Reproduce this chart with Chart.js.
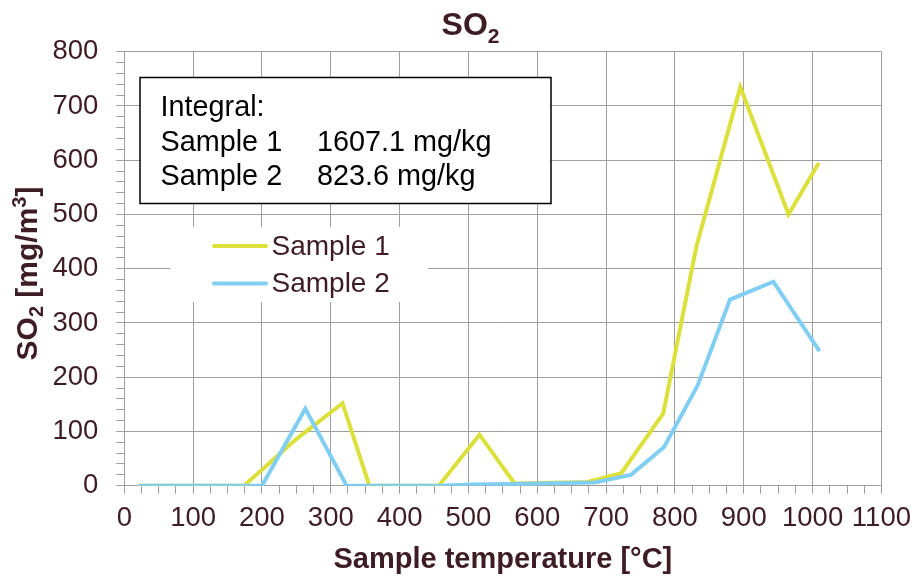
<!DOCTYPE html>
<html><head><meta charset="utf-8">
<script src="https://cdn.jsdelivr.net/npm/chart.js@4.4.1/dist/chart.umd.min.js"></script>
<style>html,body{margin:0;padding:0;background:#fff}canvas{display:block}</style>
</head><body>
<canvas id="c" width="919" height="580"></canvas>
<script>
// ---- data ----
const seriesNames = ['Sample 1', 'Sample 2'];
const sample1Temp = [21, 174, 249, 317, 356, 457, 516, 567, 673, 722, 783, 831, 895, 965, 1009];
const sample1SO2  = [0, 0, 85, 152, 0, 0, 94, 4, 7, 23, 133, 440, 735, 500, 595];
const sample2Temp = [21, 200, 263, 323, 457, 505, 566, 683, 736, 784, 833, 880, 943, 1010];
const sample2SO2  = [0, 0, 142, 0, 0, 2, 3, 6, 20, 71, 185, 343, 376, 248];
const integralHeader = 'Integral:';
const integralValues = ['1607.1 mg/kg', '823.6 mg/kg'];
const xAxisTitle = 'Sample temperature [°C]';
const titleParts = ['SO', '2'];
const yTitleParts = ['SO', '2', ' [mg/m', '3', ']'];

// ---- style ----
const FAM = '"Liberation Sans", Arial, sans-serif';
const TXT = '#3e1c25';
const GRID = '#a09e9e';
const C1 = '#dbe03b';
const C2 = '#80cff2';

const toPts = (xs, ys) => xs.map((x, i) => ({x: x, y: ys[i]}));

function drawRich(ctx, segs, cx, cy, rot) {
  ctx.save();
  ctx.translate(cx, cy);
  ctx.rotate(rot);
  ctx.textAlign = 'left';
  ctx.textBaseline = 'alphabetic';
  ctx.fillStyle = TXT;
  let total = 0;
  segs.forEach(s => { ctx.font = 'bold ' + s.size + 'px ' + FAM; s.w = ctx.measureText(s.t).width; total += s.w; });
  let x = -total / 2;
  segs.forEach(s => { ctx.font = 'bold ' + s.size + 'px ' + FAM; ctx.fillText(s.t, x, s.dy || 0); x += s.w; });
  ctx.restore();
}

const decor = {
  id: 'decor',
  afterDraw(chart) {
    const ctx = chart.ctx;
    // main title
    drawRich(ctx, [
      {t: titleParts[0], size: 32},
      {t: titleParts[1], size: 21, dy: 8}
    ], 470.5, 35, 0);
    // y title
    drawRich(ctx, [
      {t: yTitleParts[0], size: 30},
      {t: yTitleParts[1], size: 20, dy: 6},
      {t: yTitleParts[2], size: 30},
      {t: yTitleParts[3], size: 20, dy: -11},
      {t: yTitleParts[4], size: 30}
    ], 37, 273.5, -Math.PI / 2);

    // integral box
    ctx.save();
    ctx.fillStyle = '#fff';
    ctx.fillRect(140, 77.5, 411, 126);
    ctx.strokeStyle = '#000';
    ctx.lineWidth = 1.5;
    ctx.strokeRect(140, 77.5, 411, 126);
    ctx.fillStyle = '#000';
    ctx.font = '28.8px ' + FAM;
    ctx.textAlign = 'left';
    ctx.textBaseline = 'alphabetic';
    ctx.fillText(integralHeader, 160.5, 116);
    const rows = [150.5, 185];
    chart.data.datasets.forEach((ds, i) => {
      ctx.fillText(ds.label, 160.5, rows[i]);
      ctx.fillText(integralValues[i], 317, rows[i]);
    });
    ctx.restore();

    // legend
    ctx.save();
    ctx.fillStyle = '#fff';
    ctx.fillRect(170, 227, 258, 75);
    const ly = [246, 283.5];
    chart.data.datasets.forEach((ds, i) => {
      ctx.strokeStyle = ds.borderColor;
      ctx.lineWidth = 4;
      ctx.lineCap = 'round';
      ctx.beginPath();
      ctx.moveTo(214, ly[i]);
      ctx.lineTo(266, ly[i]);
      ctx.stroke();
      ctx.fillStyle = TXT;
      ctx.font = '28px ' + FAM;
      ctx.textAlign = 'left';
      ctx.textBaseline = 'middle';
      ctx.fillText(ds.label, 271.5, ly[i] + 1);
    });
    ctx.restore();
  }
};

const isMajor = ctx => ctx.tick && Math.round(ctx.tick.value) % 100 === 0;

new Chart(document.getElementById('c'), {
  type: 'line',
  data: {
    datasets: [
      {label: seriesNames[0], data: toPts(sample1Temp, sample1SO2), borderColor: C1, backgroundColor: C1,
       borderWidth: 4, pointRadius: 0, tension: 0, fill: false, order: 2, borderJoinStyle: 'miter'},
      {label: seriesNames[1], data: toPts(sample2Temp, sample2SO2), borderColor: C2, backgroundColor: C2,
       borderWidth: 4, pointRadius: 0, tension: 0, fill: false, order: 1, borderJoinStyle: 'miter'}
    ]
  },
  options: {
    responsive: false,
    animation: false,
    devicePixelRatio: 1,
    layout: {padding: {top: 51.7, right: 37.3, bottom: 0, left: 0}},
    plugins: {legend: {display: false}, title: {display: false}, tooltip: {enabled: false}},
    scales: {
      x: {
        type: 'linear', min: 0, max: 1100,
        afterFit: s => { s.height = 94.3; },
        ticks: {stepSize: 25, autoSkip: false, maxRotation: 0, minRotation: 0, padding: 8,
          color: TXT, font: {family: FAM, size: 27.5},
          callback: v => (Math.round(v) % 100 === 0 ? String(v) : '')},
        grid: {color: c => isMajor(c) ? GRID : 'rgba(0,0,0,0)', tickColor: GRID, tickLength: 8, lineWidth: 1},
        border: {color: GRID, width: 1},
        title: {display: true, text: xAxisTitle, color: TXT, font: {family: FAM, size: 29, weight: 'bold'},
          padding: {top: 0, bottom: 2.6}}
      },
      y: {
        type: 'linear', min: 0, max: 800,
        afterFit: s => { s.width = 124.3; },
        ticks: {stepSize: 20, autoSkip: false, padding: 18, color: TXT, font: {family: FAM, size: 27.5},
          callback: v => (Math.round(v) % 100 === 0 ? String(v) : '')},
        grid: {color: c => isMajor(c) ? GRID : 'rgba(0,0,0,0)', tickColor: GRID, tickLength: 8, lineWidth: 1},
        border: {color: GRID, width: 1}
      }
    }
  },
  plugins: [decor]
});
</script>
</body></html>
